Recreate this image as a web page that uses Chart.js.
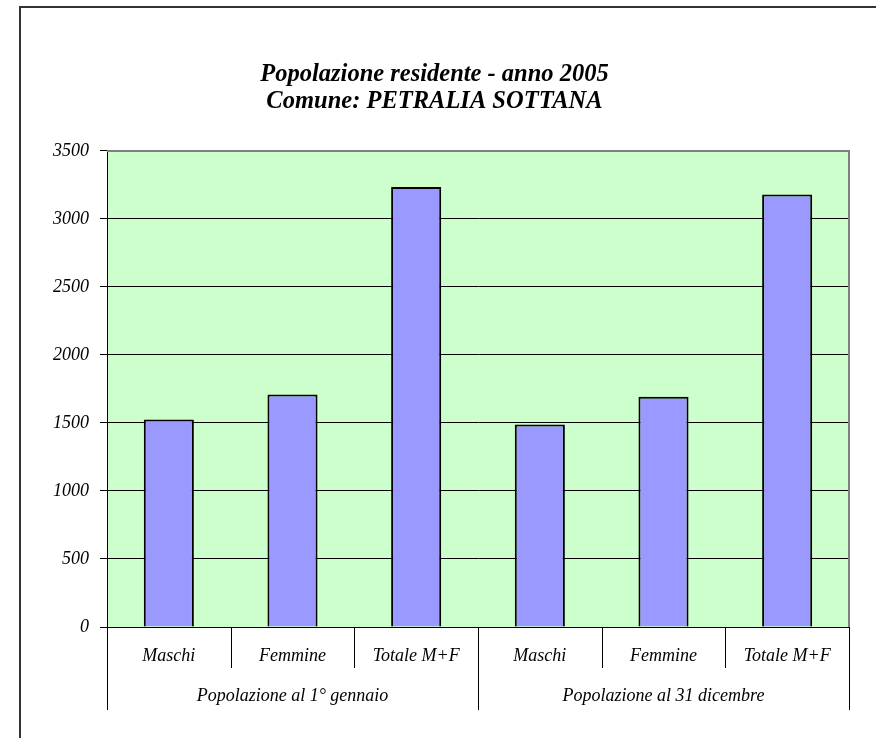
<!DOCTYPE html>
<html>
<head>
<meta charset="utf-8">
<script src="https://cdn.jsdelivr.net/npm/chart.js@4/dist/chart.umd.min.js"></script>
<style>
  body { margin: 0; background: #fff; }
  #wrap { position: relative; width: 876px; height: 738px; overflow: hidden; }
  #frame { position: absolute; left: 19px; top: 6px; width: 900px; height: 800px;
           border-left: 2px solid #333; border-top: 2px solid #333; pointer-events: none; }
</style>
</head>
<body>
<div id="wrap">
  <canvas id="c" width="876" height="738"></canvas>
  <div id="frame"></div>
</div>
<script>
const categories = ['Maschi', 'Femmine', 'Totale M+F', 'Maschi', 'Femmine', 'Totale M+F'];
const groups = ['Popolazione al 1° gennaio', 'Popolazione al 31 dicembre'];
const values = [1525, 1710, 3235, 1488, 1692, 3180];
const yTicks = [0, 500, 1000, 1500, 2000, 2500, 3000, 3500];

const serif = '"Liberation Serif", "Times New Roman", serif';

// plot background, gray top/right border and the category separators below the axis
const plotDecor = {
  id: 'plotDecor',
  beforeDraw(chart) {
    const { ctx, chartArea: a } = chart;
    ctx.save();
    ctx.fillStyle = '#CCFFCC';
    ctx.fillRect(a.left, a.top, a.right - a.left, a.bottom - a.top);
    ctx.restore();
  },
  afterDraw(chart) {
    const { ctx, chartArea: a } = chart;
    const x = chart.scales.x, x2 = chart.scales.x2;
    ctx.save();
    ctx.strokeStyle = '#808080';
    ctx.lineWidth = 2;
    ctx.beginPath();
    ctx.moveTo(a.left, a.top);
    ctx.lineTo(a.right, a.top);
    ctx.lineTo(a.right, a.bottom);
    ctx.stroke();

    const n = categories.length;
    const step = x.getPixelForValue(1) - x.getPixelForValue(0);
    ctx.strokeStyle = '#000';
    ctx.lineWidth = 1;
    for (let i = 0; i <= n; i++) {
      const px = Math.round(x.getPixelForValue(0) - step / 2 + i * step) + 0.5;
      const end = (i % 3 === 0) ? x2.bottom : x.bottom;
      ctx.beginPath();
      ctx.moveTo(px, a.bottom);
      ctx.lineTo(px, end);
      ctx.stroke();
    }
    ctx.restore();
  }
};

new Chart(document.getElementById('c'), {
  type: 'bar',
  data: {
    labels: categories,
    datasets: [{
      data: values,
      backgroundColor: '#9999FF',
      borderColor: '#000',
      borderWidth: 2,
      categoryPercentage: 1,
      barPercentage: 0.405
    }]
  },
  options: {
    responsive: false,
    animation: false,
    layout: { padding: { left: 20, right: 27, top: 0, bottom: 28 } },
    plugins: {
      legend: { display: false },
      tooltip: { enabled: false },
      title: {
        display: true,
        text: ['Popolazione residente - anno 2005', 'Comune: PETRALIA SOTTANA'],
        color: '#000',
        font: { family: serif, size: 24.5, style: 'italic', weight: 'bold', lineHeight: 1.1 },
        padding: { top: 61, bottom: 36 }
      }
    },
    scales: {
      y: {
        min: 0,
        max: 3500,
        afterBuildTicks: (s) => { s.ticks = yTicks.map(v => ({ value: v })); },
        afterFit: (s) => { s.width = 87; },
        ticks: {
          color: '#000',
          padding: 11,
          callback: (v) => String(v),
          font: { family: serif, size: 18, style: 'italic' }
        },
        grid: {
          color: (c) => c.tick && c.tick.value === 3500 ? 'rgba(0,0,0,0)' : '#000',
          tickColor: '#000',
          lineWidth: 1,
          tickLength: 7
        },
        border: { color: '#000', width: 1 }
      },
      x: {
        offset: true,
        afterFit: (s) => { s.height = 41; },
        ticks: {
          color: '#000',
          padding: 18,
          maxRotation: 0,
          autoSkip: false,
          font: { family: serif, size: 18, style: 'italic' }
        },
        grid: { display: false, drawTicks: false },
        border: { color: '#000', width: 1 }
      },
      x2: {
        type: 'category',
        labels: groups,
        position: 'bottom',
        offset: true,
        afterFit: (s) => { s.height = 42; },
        ticks: {
          color: '#000',
          padding: 17,
          maxRotation: 0,
          autoSkip: false,
          font: { family: serif, size: 18, style: 'italic' }
        },
        grid: { display: false, drawTicks: false },
        border: { display: false }
      }
    }
  },
  plugins: [plotDecor]
});
</script>
</body>
</html>
